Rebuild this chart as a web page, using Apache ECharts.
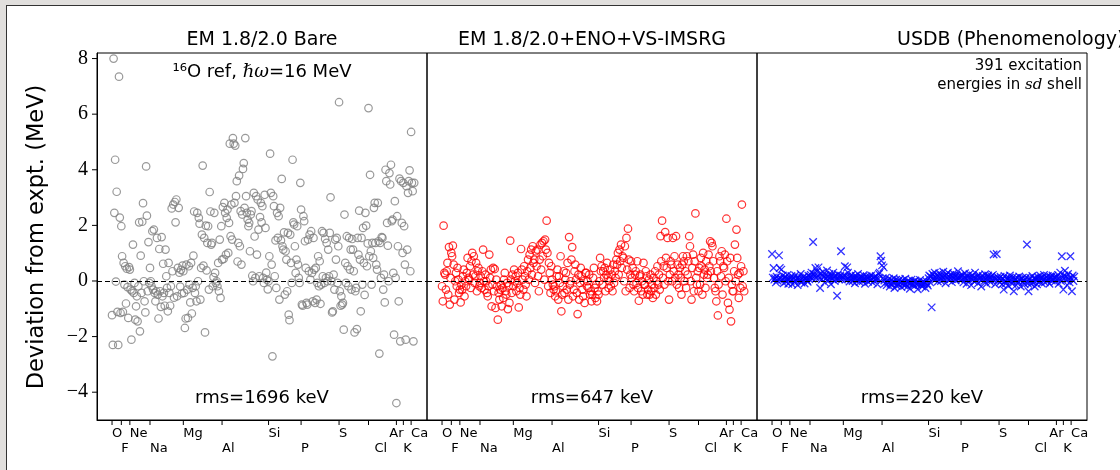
<!DOCTYPE html>
<html><head><meta charset="utf-8">
<script src="https://cdn.jsdelivr.net/npm/echarts@6/dist/echarts.min.js"></script>
<style>
html,body{margin:0;padding:0;background:#e1dfdd;width:1120px;height:470px;overflow:hidden}
#frame{position:absolute;left:6px;top:5px;width:1114px;height:465px;background:#fff;border-left:1.5px solid #333;border-top:1.5px solid #333;box-sizing:border-box}
#chart{position:absolute;left:0;top:0;width:1120px;height:470px}
</style></head><body><div id="frame"></div><div id="chart"></div>
<script>
const elements = ['O','F','Ne','Na','Mg','Al','Si','P','S','Cl','Ar','K','Ca'];
const lowerRow = ['F','Na','Al','P','Cl','K'];
const yTicks = [-4,-2,0,2,4,6,8];
const panelTitles = ['EM 1.8/2.0 Bare','EM 1.8/2.0+ENO+VS-IMSRG','USDB (Phenomenology)'];
const rmsLabels = ['rms=1696 keV','rms=647 keV','rms=220 keV'];

// deviations (MeV), grouped by element, levels in order
const bare = [
 [-1.23,-2.3,8.0,2.45,4.36,-0.02,3.21,-1.11,-2.3,7.35,2.28,-1.15],
 [1.97,0.89,-1.11,0.65,-0.13,0.53,-0.81,0.44,-0.22,-1.33,0.5],
 [0.41,-0.31,-2.11,-0.37,1.31,-0.43,-0.07,-1.39,-0.91,-0.55,-1.45,-0.19,2.11,-1.81,0.91,-0.43,2.13,2.8,-0.01,-0.73,-1.13,4.12,2.35,-0.37,1.4,-0.07],
 [0.47,-0.01,-0.19,1.79,-0.31,1.85,-0.43,-0.73,-0.37,1.55,-0.49,-1.35,1.15,-0.37,-0.93,1.58,-0.55,0.62,-0.43,-0.89,1.13,0.17,-0.25,-1.09,0.65,-0.43,-0.89,-0.19,2.61,0.35,2.75,-0.6,2.84,2.11,2.93,-0.55,0.47,2.63,0.3,-0.2,0.4,-0.45,0.55],
 [0.35,-0.43,-1.69,-1.35,0.59,-0.31,-1.33,0.53,-0.13,-0.77,0.65,-1.17,-0.25,0.91,2.5,-0.43,-0.19,-0.73,2.45,-0.01,2.27,2.06,-0.67,0.47,1.67,4.15,0.55,1.55,-1.85,1.99,0.38,1.37,1.97,-0.31,3.2,2.5,1.31,1.37,-0.19,0.14,2.45,0.29,-0.07,-0.01,-0.19,0.65,-0.37,1.49,-0.61,1.97],
 [0.77,2.66,0.79,2.81,2.45,0.95,2.27,2.57,1.01,2.09,4.94,1.61,2.75,1.49,5.14,4.94,2.81,4.87,3.05,3.59,0.7,1.37,3.79,1.25,2.51,0.59,2.39,4.03,4.24,2.63,5.14,3.05,2.45,2.21,1.97,2.09,1.07,2.39,2.51,0.19,-0.01,3.17,1.6,0.11,3.05,0.95,2.93,1.85,0.17,2.3,2.81,2.11,2.69,0.11,-0.07,3.1,1.91,0.3,0.05,-0.3],
 [-0.01,0.89,4.58,3.17,0.59,-2.71,3.05,2.69,0.17,1.46,-0.25,2.45,1.55,2.33,-0.67,2.63,1.46,3.67,1.25,1.13,1.75,-0.49,1.07,0.77,-0.37,1.73,-1.21,-1.41,1.67,0.65,-0.07,4.36,2.11,2.03,1.25,0.29,0.77,1.97,0.59,0.11,-0.07,3.53],
 [2.57,-0.85,-0.89,2.33,2.15,1.43,0.47,-0.79,-0.85,1.49,0.35,1.67,0.05,1.79,0.29,-0.73,1.55,0.41,-0.79,0.47,-0.67,-0.07,0.89,-0.19,0.71,-0.82,-0.13,1.79,0.17,1.73,-0.07,1.51,0.11,1.37,-0.01,1.13,0.17,1.73,3.01,-0.01,-1.13,-1.09,0.23,-0.31,1.49,0.77,1.55,-0.07,1.25],
 [6.43,-0.37,-0.89,-0.55,-0.85,-0.79,-1.75,2.39,0.65,-0.07,1.61,0.53,-0.19,1.55,0.41,1.13,-0.31,1.51,1.13,0.35,-1.85,-0.37,-0.25,-1.73,1.55,0.95,2.53,0.77,-1.09,1.55,-0.13,1.91,0.65,-0.5,2.45,1.99,0.53,1.35],
 [6.22,0.89,3.82,1.07,-0.13,1.37,0.83,2.63,2.81,1.37,0.59,0.41,2.81,1.43,-2.61,1.37,0.11,1.58,1.55,-0.31,0.23,-0.77,4.0,3.59,2.09,1.27,-0.01,3.88,3.47,4.18,2.15,2.21,0.29,-1.93,2.87,0.11],
 [-4.39,2.33,1.25,-0.73,3.68,-2.17,3.59,2.09,1.01],
 [3.53,1.97,0.59,-2.11,3.41,1.13,3.17,3.59,3.98,0.35],
 [5.36,3.53,3.23,-2.17,3.53]
];
const imsrg = [
 [-0.19,-0.73,1.99,0.29,0.23,-0.31,0.35,0.65,-0.49,1.22,-0.85,0.11],
 [1.01,0.89,1.27,0.59,-0.67,-0.01,0.29,-0.19,0.47,0.05,-0.43],
 [-0.31,-0.77,-0.13,-0.31,0.17,0.41,-0.55,-0.01,-0.19,0.29,0.83,0.11,0.05,0.53,-0.25,0.71,1.01,0.23,0.89,-0.07,0.17,0.65,-0.37,0.35,0.47,-0.19],
 [-0.07,0.17,-0.25,0.35,1.13,-0.01,-0.31,0.23,-0.01,-0.43,-0.55,-0.19,0.95,0.11,0.41,-0.91,-0.13,0.47,-0.37,0.43,-0.97,0.05,-0.19,-1.39,-0.43,-0.67,-0.31,-0.13,-0.91,-0.25,-0.61,0.05,0.29,-0.37,-0.49,-0.07,-1.01,-0.19,-0.79,1.45,0.05,-0.43,0.23],
 [-0.19,0.41,-0.01,0.17,-0.37,-0.07,0.29,-0.95,-0.25,-0.49,1.15,0.41,0.05,-0.31,0.53,0.17,-0.13,-0.55,0.35,0.77,0.05,0.95,0.47,1.13,0.23,1.25,0.65,0.77,-0.07,1.07,0.53,1.13,0.17,-0.37,0.77,1.31,0.41,1.37,0.89,1.43,0.05,1.49,1.13,2.17,1.01,-0.19,0.65,0.29,-0.43,0.53],
 [0.05,-0.13,-0.31,-0.19,-0.55,-0.37,0.17,0.41,-0.67,0.17,-0.07,0.89,-1.09,-0.49,-0.19,0.35,-0.43,0.05,0.29,-0.31,0.65,-0.67,1.58,-0.13,-0.01,0.77,1.22,-0.55,-0.31,0.35,0.59,0.05,-0.43,-1.19,0.23,-0.67,-0.07,0.47,0.17,-0.31,-0.55,-0.01,-0.79,0.29,0.29,-0.19,-0.01,-0.25,0.23,-0.49,-0.37,-0.73,-0.49,0.11,0.47,-0.25,-0.61,-0.13,-0.73,-0.37],
 [-0.49,-0.01,0.83,0.35,0.53,-0.13,0.35,0.11,0.47,-0.37,0.23,0.65,0.11,-0.25,-0.01,0.41,-0.19,0.23,-0.37,0.59,-0.07,0.35,0.11,0.77,0.59,1.01,0.23,1.13,0.71,1.31,0.47,0.89,0.83,-0.01,1.25,-0.37,1.55,0.41,1.88,0.77,-0.25,0.23],
 [0.71,0.11,0.47,-0.13,-0.37,0.23,0.35,-0.07,0.71,-0.25,-0.71,0.17,0.23,-0.37,-0.01,-0.49,0.65,-0.13,-0.13,0.35,0.17,-0.49,-0.31,0.05,-0.49,0.23,-0.37,-0.13,-0.61,0.11,-0.25,0.35,-0.49,-0.01,0.53,-0.13,0.23,-0.31,1.61,0.71,2.17,0.11,0.53,-0.13,1.76,0.83,0.47,1.55,-0.01],
 [-0.67,0.23,0.71,0.59,-0.01,1.55,0.35,0.89,0.11,1.61,-0.13,0.59,0.23,-0.25,0.47,0.11,-0.49,0.59,0.89,0.71,-0.01,0.35,-0.25,0.89,0.23,0.71,1.61,1.25,-0.01,-0.67,0.47,0.95,-0.37,0.71,2.43,0.11,-0.13,0.35],
 [-0.37,0.47,-0.13,0.83,0.53,-0.49,1.01,0.23,0.41,-0.25,0.71,0.11,0.23,0.95,0.53,1.43,0.35,1.37,1.25,0.71,0.11,-0.25,-0.37,-0.73,0.35,-1.24,-0.13,0.89,0.71,0.17,1.07,-0.49,0.53,0.47,0.95,-0.01],
 [2.24,0.71,-0.79,0.11,-1.03,0.83,-1.45,-0.13,-0.37],
 [-0.37,0.35,1.31,-0.01,1.85,0.83,0.23,-0.61,0.29,-0.25],
 [0.53,2.75,-0.19,0.35,-0.37]
];
const usdb = [
 [0.97,0.12,0.47,0.05,0.1,-0.05,0.15,0.02,0.08,0.92,0.47,0.1],
 [0.41,0.05,0.2,-0.08,0.1,0.15,-0.02,0.08,0.22,-0.1,0.05],
 [0.1,0.0,0.18,-0.12,0.06,0.12,-0.05,0.2,0.03,0.09,-0.15,0.14,0.07,0.0,0.25,-0.06,0.11,0.04,0.16,-0.09,0.08,0.13,0.02,-0.03,0.19,0.06],
 [0.15,0.22,0.3,0.08,1.4,0.25,0.18,0.47,0.1,0.35,0.2,0.49,0.12,-0.25,0.28,0.05,0.18,0.32,0.14,-0.05,0.22,0.1,0.38,0.16,0.02,0.25,0.12,-0.12,0.2,0.08,0.3,0.15,0.0,0.18,0.1,-0.53,0.24,0.06,0.13,0.2,1.07,0.05,0.16],
 [0.12,0.2,0.53,0.05,0.15,0.49,0.3,0.08,-0.02,0.18,0.1,0.22,0.0,0.14,0.06,-0.08,0.19,0.11,0.03,0.25,0.09,-0.04,0.16,0.07,0.13,0.0,0.21,0.1,-0.1,0.05,0.17,0.12,-0.03,0.08,0.15,0.02,0.2,0.06,-0.06,0.11,0.14,0.04,0.18,0.09,-0.12,0.07,0.25,0.3,0.89,0.73],
 [0.56,0.1,0.49,0.02,-0.08,0.12,-0.15,0.0,-0.05,0.08,-0.2,-0.1,0.04,-0.12,-0.02,0.1,-0.25,-0.06,0.05,-0.18,-0.09,0.0,-0.14,0.06,-0.04,-0.22,-0.1,0.03,-0.07,-0.16,0.08,-0.12,-0.03,-0.2,0.0,-0.08,-0.28,-0.05,0.05,-0.15,-0.1,-0.02,-0.18,0.02,-0.06,-0.12,-0.3,-0.04,-0.1,0.04,-0.15,-0.08,-0.2,-0.02,-0.12,-0.06,-0.25,0.0,-0.1,-0.16],
 [0.1,0.2,-0.05,0.15,-0.95,0.25,0.08,0.18,0.3,0.05,0.12,0.22,-0.02,0.16,0.28,0.1,0.0,0.2,0.14,0.33,0.06,0.18,-0.08,0.24,0.12,0.3,0.04,0.15,0.22,0.08,-0.04,0.19,0.27,0.1,0.16,0.02,0.21,0.12,0.35,0.07,0.14,0.2],
 [0.15,0.05,0.22,-0.05,0.12,0.28,0.08,-0.1,0.18,0.1,0.0,0.25,0.14,-0.15,0.06,0.2,0.1,-0.02,0.3,0.12,0.04,0.16,-0.08,0.22,0.09,0.14,-0.2,0.05,0.18,0.11,0.0,0.24,0.07,-0.1,0.15,0.2,0.03,0.12,-0.05,0.17,0.08,0.22,0.95,0.1,-0.12,0.06,0.97,0.14,0.02],
 [0.1,-0.05,0.15,0.02,-0.12,0.08,-0.31,0.18,0.0,-0.08,0.12,0.05,-0.18,0.1,0.2,-0.02,0.06,-0.1,0.14,-0.37,0.03,0.09,-0.15,0.12,0.0,-0.06,0.16,0.04,-0.2,0.08,0.11,-0.04,0.02,-0.12,0.07,0.13,1.31,-0.08],
 [-0.37,0.05,0.12,-0.1,0.0,0.18,-0.05,0.08,-0.2,0.1,0.03,-0.12,0.15,0.06,-0.02,0.2,0.1,-0.08,0.12,0.04,0.22,-0.05,0.09,0.14,0.0,0.18,0.07,-0.1,0.16,0.11,0.02,0.2,0.08,0.13,-0.03,0.1],
 [0.15,0.05,0.22,-0.1,0.1,0.3,0.0,0.89,0.12],
 [-0.31,0.2,0.37,0.05,0.15,-0.15,0.25,0.08,-0.05,0.89],
 [0.1,-0.37,0.2,0.0,0.15]
];

const starts = []; { let acc = 0; bare.forEach(b => { starts.push(acc); acc += b.length; }); }
const startOf = name => starts[elements.indexOf(name)];
const upperStarts = elements.filter(n => !lowerRow.includes(n) && n !== 'Ar').map(startOf);
const arStarts = [startOf('Ar')];
const lowerStarts = lowerRow.map(startOf);
const nameAt = v => { const n = elements[starts.indexOf(v)]; return n === 'Cl' ? '{c|Cl}' : n; };
const toXY = groups => groups.flat().map((v, i) => [i, v]);
const XMIN = -19.4, XMAX = 406.5, YMIN = -5, YMAX = 8.2;
const SANS = '"DejaVu Sans", "Noto Sans", sans-serif';
const SERIF = '"Liberation Serif", "DejaVu Serif", serif';
const GL = [97, 427, 757], GW = 330, GT = 53, GH = 367;

const labelAxis = (i, values, margin, align) => ({
  type: 'value', gridIndex: i, min: XMIN, max: XMAX, position: 'bottom',
  axisLine: { show: false, onZero: false }, splitLine: { show: false }, axisTick: { show: false },
  axisLabel: { show: true, customValues: values, margin, align, color: '#000',
    showMinLabel: true, showMaxLabel: true, hideOverlap: false, fontFamily: SANS, fontSize: 13,
    formatter: nameAt, rich: { c: { fontFamily: SANS, fontSize: 13, padding: [0, 0, 0, 6] } } }
});
const xAxes = [];
GL.forEach((_, i) => {
  const main = labelAxis(i, upperStarts, 7, 'left');
  main.axisLine = { show: true, onZero: false, lineStyle: { color: '#000', width: 1 } };
  xAxes.push(main, labelAxis(i, lowerStarts, 22, 'left'), labelAxis(i, arStarts, 7, 'center'));
});
const yAxes = GL.map((_, i) => i === 0 ? {
  type: 'value', gridIndex: 0, min: YMIN, max: YMAX, position: 'left',
  axisLine: { show: true, onZero: false, lineStyle: { color: '#000', width: 1 } },
  splitLine: { show: false }, axisTick: { show: false },
  axisLabel: { customValues: yTicks, margin: 9, color: '#000', fontFamily: SERIF, fontSize: 20,
    showMinLabel: true, showMaxLabel: true,
    formatter: v => v < 0 ? '\u2212' + Math.abs(v) : String(v) }
} : { type: 'value', gridIndex: i, min: YMIN, max: YMAX, show: false });

const zeroLine = { silent: true, symbol: ['none', 'none'], label: { show: false }, animation: false,
  lineStyle: { color: '#000', type: [5, 3], width: 1.2 }, data: [{ yAxis: 0 }] };

const series = [
  { type: 'scatter', xAxisIndex: 0, yAxisIndex: 0, data: toXY(bare), symbol: 'circle', symbolSize: 7.5,
    itemStyle: { color: 'rgba(0,0,0,0)', borderColor: '#808080', borderWidth: 1.2 }, markLine: zeroLine },
  { type: 'scatter', xAxisIndex: 3, yAxisIndex: 1, data: toXY(imsrg), symbol: 'circle', symbolSize: 7.5,
    itemStyle: { color: 'rgba(0,0,0,0)', borderColor: '#ff0000', borderWidth: 1.2 }, markLine: zeroLine },
  { type: 'scatter', xAxisIndex: 6, yAxisIndex: 2, data: toXY(usdb), symbol: 'path://M0,0L10,10M10,0L0,10', symbolSize: 7.5,
    itemStyle: { color: 'rgba(0,0,0,0)', borderColor: '#0000ff', borderWidth: 1.3 }, markLine: zeroLine }
];
// axis tick marks (element boundaries on x, value ticks on y), placed through the axes' own scales
GL.forEach((_, i) => series.push({
  type: 'custom', xAxisIndex: 3 * i, yAxisIndex: i, clip: false, z: 5,
  data: starts.map(s => [s, YMIN]), encode: { x: 0, y: 1 },
  renderItem: (p, api) => { const c = api.coord([api.value(0), api.value(1)]);
    return { type: 'line', shape: { x1: c[0], y1: c[1], x2: c[0], y2: c[1] + 5 }, style: { stroke: '#000', lineWidth: 1 } }; }
}));
series.push({
  type: 'custom', xAxisIndex: 0, yAxisIndex: 0, clip: false, z: 5,
  data: yTicks.map(v => [XMIN, v]), encode: { x: 0, y: 1 },
  renderItem: (p, api) => { const c = api.coord([api.value(0), api.value(1)]);
    return { type: 'line', shape: { x1: c[0] - 5, y1: c[1], x2: c[0], y2: c[1] }, style: { stroke: '#000', lineWidth: 1 } }; }
});
series.forEach(s => Object.assign(s, { silent: true, animation: false, emphasis: { disabled: true } }));

const txt = (x, y, text, size, align, extra) => ({ type: 'text', x, y, silent: true,
  style: Object.assign({ text, fontFamily: SANS, fontSize: size, fill: '#000', align, verticalAlign: 'middle' }, extra || {}) });
const it = { i: { fontStyle: 'italic', fontFamily: '"DejaVu Serif", serif', fontSize: 18 } };

const graphic = [
  txt(262, 40, panelTitles[0], 19, 'center'),
  txt(592, 40, panelTitles[1], 19, 'center'),
  txt(897, 40, panelTitles[2], 19, 'left'),
  txt(262, 72, '\u00b9\u2076O ref, {i|\u210f\u03c9}=16 MeV', 18, 'center', { rich: it }),
  txt(1082, 66, '391 excitation', 15, 'right'),
  txt(1082, 85, 'energies in {i|sd} shell', 15, 'right', { rich: { i: { fontStyle: 'italic', fontFamily: '"DejaVu Serif", serif', fontSize: 15 } } }),
  txt(262, 398, rmsLabels[0], 18, 'center'),
  txt(592, 398, rmsLabels[1], 18, 'center'),
  txt(922, 398, rmsLabels[2], 18, 'center'),
  Object.assign(txt(37, 237, 'Deviation from expt. (MeV)', 22.5, 'center'), { rotation: Math.PI / 2 })
];

const chart = echarts.init(document.getElementById('chart'), null, { renderer: 'canvas' });
chart.setOption({
  animation: false,
  backgroundColor: 'transparent',
  grid: GL.map(l => ({ left: l, top: GT, width: GW, height: GH, show: true, borderColor: '#000', borderWidth: 1, backgroundColor: 'transparent' })),
  xAxis: xAxes, yAxis: yAxes, series, graphic
});
</script></body></html>
